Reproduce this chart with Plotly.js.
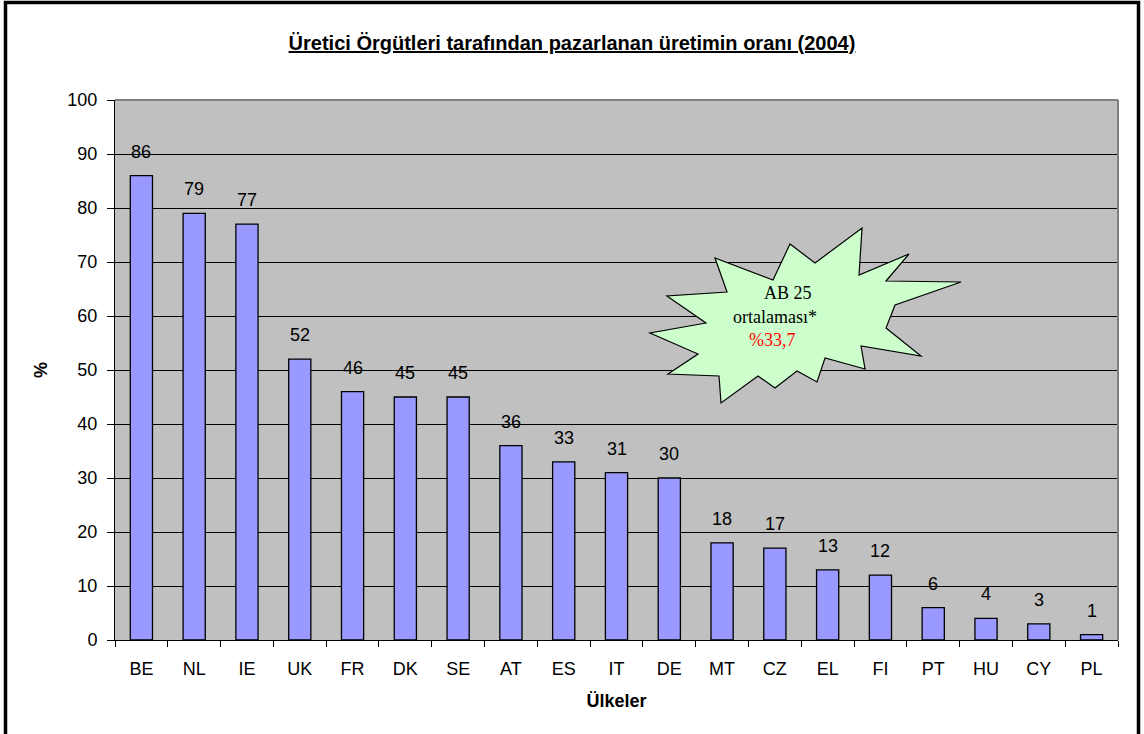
<!DOCTYPE html>
<html>
<head>
<meta charset="utf-8">
<script src="https://cdn.plot.ly/plotly-3.0.1.min.js"></script>
<style>html,body{margin:0;padding:0;background:#fff;}#chart{width:1144px;height:734px;}</style>
</head>
<body>
<div id="chart"></div>
<script>
// ---- data ----
const countries = ["BE","NL","IE","UK","FR","DK","SE","AT","ES","IT","DE","MT","CZ","EL","FI","PT","HU","CY","PL"];
const shares = [86,79,77,52,46,45,45,36,33,31,30,18,17,13,12,6,4,3,1];
const yTicks = [0,10,20,30,40,50,60,70,80,90,100];
const chartTitle = "Üretici Örgütleri tarafından pazarlanan üretimin oranı (2004)";
const xTitle = "Ülkeler";
const yTitle = "%";
const calloutLines = ["AB 25", "ortalaması*", "%33,7"];

// ---- geometry helpers (pixel -> paper) ----
const W = 1144, H = 734, ML = 115, MR = 26, MT = 100, MB = 94;
const PW = W - ML - MR, PH = H - MT - MB;
const px = x => (x - ML) / PW;
const py = y => (H - MB - y) / PH;

// starburst outline in pixel space
const starPts = [[715,258],[727,292],[667,296],[706,323],[650,333],[698,354],[668,374],[719,376],[721,403],[758,376],[775,388],[797,371],[817,382],[825,358],[865,369],[861,346],[921,356],[886,328],[895,305],[961,282],[886,281],[909,254],[859,275],[862,228],[815,263],[790,244],[773,280]];
const starPath = "M " + starPts.map(p => px(p[0]).toFixed(4) + "," + py(p[1]).toFixed(4)).join(" L ") + " Z";

const font = "Liberation Sans, Arial, sans-serif";
const serif = "Liberation Serif, Times New Roman, serif";

const trace = {
  type: "bar",
  x: countries,
  y: shares,
  marker: {color: "#9999FF", line: {color: "#000000", width: 1.3}},
  hoverinfo: "x+y"
};

const annotations = countries.map((c, i) => ({
  x: c, y: shares[i], xref: "x", yref: "y",
  text: String(shares[i]), showarrow: false,
  yanchor: "middle", yshift: 24,
  font: {family: font, size: 18, color: "#000"}
}));

annotations.push(
  {xref: "paper", yref: "paper", x: px(788), y: py(293), xanchor: "center", text: calloutLines[0], showarrow: false, font: {family: serif, size: 18, color: "#000"}},
  {xref: "paper", yref: "paper", x: px(775), y: py(317), xanchor: "center", text: calloutLines[1], showarrow: false, font: {family: serif, size: 18, color: "#000"}},
  {xref: "paper", yref: "paper", x: px(772), y: py(340), xanchor: "center", text: calloutLines[2], showarrow: false, font: {family: serif, size: 18, color: "#FF0000"}}
);

const shapes = [
  // plot frame top/right in gray
  {type: "line", xref: "paper", yref: "paper", x0: 0, x1: 1, y0: 1, y1: 1, line: {color: "#808080", width: 2}},
  {type: "line", xref: "paper", yref: "paper", x0: 1, x1: 1, y0: 0, y1: 1, line: {color: "#808080", width: 2}},
  // starburst callout
  {type: "path", xref: "paper", yref: "paper", path: starPath, fillcolor: "#CCFFCC", line: {color: "#000", width: 1.2}, layer: "above"},
  // outer chart border
  {type: "path", xref: "paper", yref: "paper",
   path: "M " + px(5.5) + "," + py(760) + " L " + px(5.5) + "," + py(2.5) + " L " + px(1138.5) + "," + py(2.5) + " L " + px(1138.5) + "," + py(760),
   line: {color: "#000", width: 3.5}}
];

const layout = {
  width: W, height: H,
  margin: {l: ML, r: MR, t: MT, b: MB},
  paper_bgcolor: "#FFFFFF",
  plot_bgcolor: "#C0C0C0",
  bargap: 0.58,
  showlegend: false,
  title: {
    text: "<u><b>" + chartTitle + "</b></u>",
    xref: "container", x: 0.5, xanchor: "center",
    yref: "container", y: 1 - 43 / H, yanchor: "middle",
    font: {family: font, size: 20, color: "#000"}
  },
  xaxis: {
    type: "category",
    tickson: "boundaries",
    ticks: "outside", ticklen: 6, tickcolor: "#000", tickwidth: 1,
    ticklabelstandoff: 12,
    showline: true, linecolor: "#000", linewidth: 1,
    showgrid: false,
    tickfont: {family: font, size: 18, color: "#000"},
    title: {text: "<b>" + xTitle + "</b>", font: {family: font, size: 18, color: "#000"}, standoff: 16},
    automargin: false
  },
  yaxis: {
    range: [0, 100],
    tickvals: yTicks,
    ticks: "outside", ticklen: 7, tickcolor: "#000", tickwidth: 1,
    ticklabelstandoff: 6,
    showline: true, linecolor: "#000", linewidth: 1,
    showgrid: true, gridcolor: "#000", gridwidth: 1,
    zeroline: false,
    tickfont: {family: font, size: 18, color: "#000"},
    title: {text: "<b>" + yTitle + "</b>", font: {family: font, size: 18, color: "#000"}, standoff: 15},
    automargin: false
  },
  annotations: annotations,
  shapes: shapes
};

Plotly.newPlot("chart", [trace], layout, {displayModeBar: false, staticPlot: false});
</script>
</body>
</html>
